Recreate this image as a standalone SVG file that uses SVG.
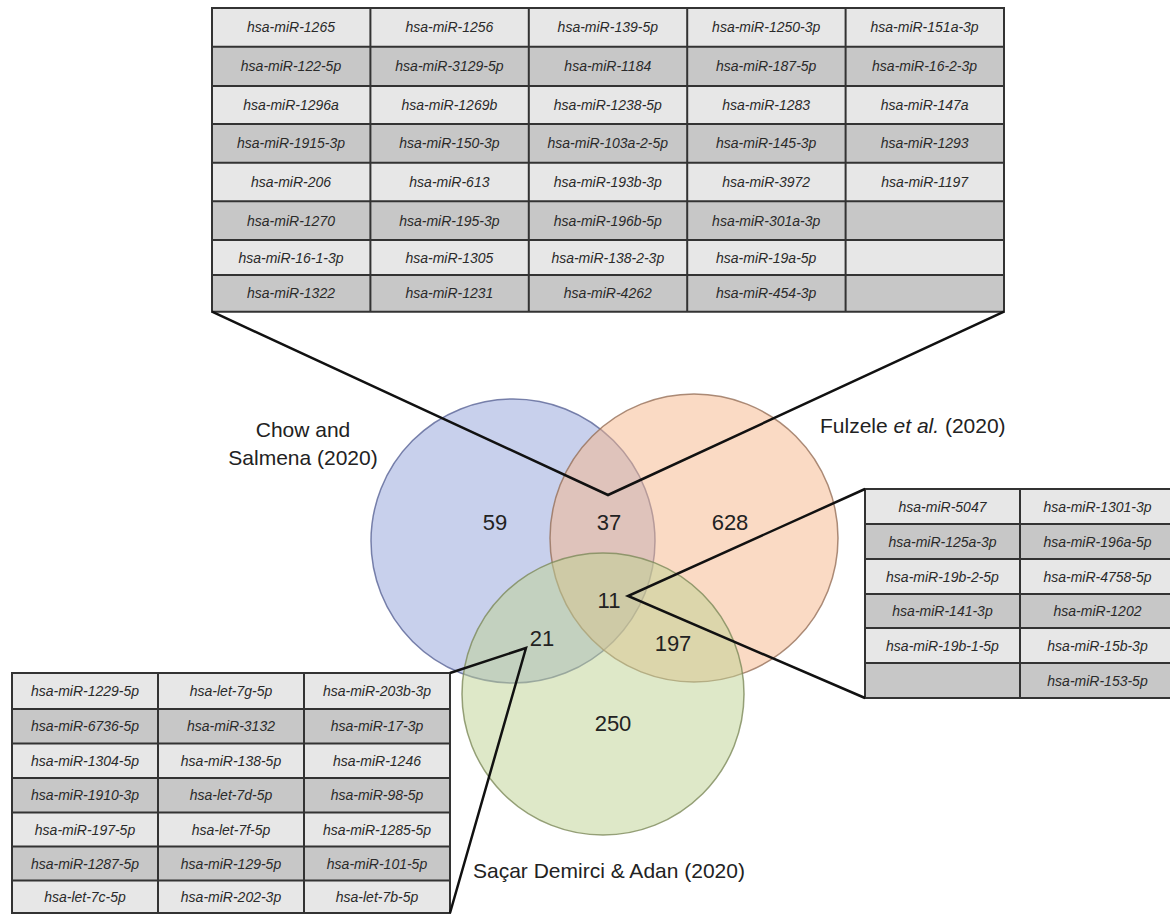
<svg xmlns="http://www.w3.org/2000/svg" width="1170" height="915" viewBox="0 0 1170 915">
<style>
.cell{font-family:"Liberation Sans",Arial,sans-serif;font-style:italic;font-size:14px;fill:#2a2a2a;text-anchor:middle}
.lt{fill:#e7e7e7}
.dk{fill:#c7c7c7}
.grid{stroke:#333;stroke-width:2;fill:none}
.num{font-family:"Liberation Sans",Arial,sans-serif;font-size:22px;fill:#222;text-anchor:middle}
.lab{font-family:"Liberation Sans",Arial,sans-serif;font-size:21px;fill:#222}
.conn{stroke:#111;stroke-width:2.5;fill:none;stroke-linejoin:miter}
</style>
<rect width="1170" height="915" fill="#fff"/>

<g id="venn">
  <g id="set-chow"><circle cx="513" cy="541" r="142" fill="#91a1d9" fill-opacity="0.5" stroke="#5a6496" stroke-opacity="0.8" stroke-width="1.5"/></g>
  <g id="set-fulzele"><circle cx="694" cy="538" r="144" fill="#f5b589" fill-opacity="0.5" stroke="#96705a" stroke-opacity="0.8" stroke-width="1.5"/></g>
  <g id="set-sacar"><circle cx="603" cy="694" r="141" fill="#bdd191" fill-opacity="0.5" stroke="#7d8a5a" stroke-opacity="0.8" stroke-width="1.5"/></g>
</g>

<g id="counts">
  <text class="num" x="495" y="530">59</text>
  <text class="num" x="609" y="530">37</text>
  <text class="num" x="730" y="530">628</text>
  <text class="num" x="609" y="608">11</text>
  <text class="num" x="542" y="646">21</text>
  <text class="num" x="673" y="651">197</text>
  <text class="num" x="613" y="731">250</text>
</g>

<g id="labels">
  <text class="lab" x="303" y="437" text-anchor="middle">Chow and</text>
  <text class="lab" x="303" y="465" text-anchor="middle">Salmena (2020)</text>
  <text class="lab" x="820" y="433">Fulzele <tspan font-style="italic">et al.</tspan> (2020)</text>
  <text class="lab" x="473" y="878">Saçar Demirci &amp; Adan (2020)</text>
</g>

<g id="table-top">
  <rect class="lt" x="212" y="8" width="792" height="38.7"/>
  <rect class="dk" x="212" y="46.7" width="792" height="39.3"/>
  <rect class="lt" x="212" y="86" width="792" height="38"/>
  <rect class="dk" x="212" y="124" width="792" height="38.7"/>
  <rect class="lt" x="212" y="162.7" width="792" height="38.6"/>
  <rect class="dk" x="212" y="201.3" width="792" height="38.7"/>
  <rect class="lt" x="212" y="240" width="792" height="35"/>
  <rect class="dk" x="212" y="275" width="792" height="36.7"/>
  <path class="grid" d="M212 8H1004V311.7H212Z M212 46.7H1004 M212 86H1004 M212 124H1004 M212 162.7H1004 M212 201.3H1004 M212 240H1004 M212 275H1004 M370.4 8V311.7 M528.8 8V311.7 M687.2 8V311.7 M845.6 8V311.7"/>
  <text class="cell" x="291" y="32.4">hsa-miR-1265</text>
  <text class="cell" x="449.4" y="32.4">hsa-miR-1256</text>
  <text class="cell" x="607.8" y="32.4">hsa-miR-139-5p</text>
  <text class="cell" x="766.2" y="32.4">hsa-miR-1250-3p</text>
  <text class="cell" x="924.6" y="32.4">hsa-miR-151a-3p</text>
  <text class="cell" x="291" y="71.4">hsa-miR-122-5p</text>
  <text class="cell" x="449.4" y="71.4">hsa-miR-3129-5p</text>
  <text class="cell" x="607.8" y="71.4">hsa-miR-1184</text>
  <text class="cell" x="766.2" y="71.4">hsa-miR-187-5p</text>
  <text class="cell" x="924.6" y="71.4">hsa-miR-16-2-3p</text>
  <text class="cell" x="291" y="110">hsa-miR-1296a</text>
  <text class="cell" x="449.4" y="110">hsa-miR-1269b</text>
  <text class="cell" x="607.8" y="110">hsa-miR-1238-5p</text>
  <text class="cell" x="766.2" y="110">hsa-miR-1283</text>
  <text class="cell" x="924.6" y="110">hsa-miR-147a</text>
  <text class="cell" x="291" y="148.4">hsa-miR-1915-3p</text>
  <text class="cell" x="449.4" y="148.4">hsa-miR-150-3p</text>
  <text class="cell" x="607.8" y="148.4">hsa-miR-103a-2-5p</text>
  <text class="cell" x="766.2" y="148.4">hsa-miR-145-3p</text>
  <text class="cell" x="924.6" y="148.4">hsa-miR-1293</text>
  <text class="cell" x="291" y="187">hsa-miR-206</text>
  <text class="cell" x="449.4" y="187">hsa-miR-613</text>
  <text class="cell" x="607.8" y="187">hsa-miR-193b-3p</text>
  <text class="cell" x="766.2" y="187">hsa-miR-3972</text>
  <text class="cell" x="924.6" y="187">hsa-miR-1197</text>
  <text class="cell" x="291" y="225.7">hsa-miR-1270</text>
  <text class="cell" x="449.4" y="225.7">hsa-miR-195-3p</text>
  <text class="cell" x="607.8" y="225.7">hsa-miR-196b-5p</text>
  <text class="cell" x="766.2" y="225.7">hsa-miR-301a-3p</text>
  <text class="cell" x="291" y="262.5">hsa-miR-16-1-3p</text>
  <text class="cell" x="449.4" y="262.5">hsa-miR-1305</text>
  <text class="cell" x="607.8" y="262.5">hsa-miR-138-2-3p</text>
  <text class="cell" x="766.2" y="262.5">hsa-miR-19a-5p</text>
  <text class="cell" x="291" y="298.4">hsa-miR-1322</text>
  <text class="cell" x="449.4" y="298.4">hsa-miR-1231</text>
  <text class="cell" x="607.8" y="298.4">hsa-miR-4262</text>
  <text class="cell" x="766.2" y="298.4">hsa-miR-454-3p</text>
</g>

<g id="table-right">
  <rect class="lt" x="865" y="489" width="310" height="35"/>
  <rect class="dk" x="865" y="524" width="310" height="35"/>
  <rect class="lt" x="865" y="559" width="310" height="35"/>
  <rect class="dk" x="865" y="594" width="310" height="34"/>
  <rect class="lt" x="865" y="628" width="310" height="35"/>
  <rect class="dk" x="865" y="663" width="310" height="35"/>
  <path class="grid" d="M1175 489H865V698H1175 M865 524H1175 M865 559H1175 M865 594H1175 M865 628H1175 M865 663H1175 M1020 489V698"/>
  <text class="cell" x="942.5" y="511.5">hsa-miR-5047</text>
  <text class="cell" x="1097.5" y="511.5">hsa-miR-1301-3p</text>
  <text class="cell" x="942.5" y="546.5">hsa-miR-125a-3p</text>
  <text class="cell" x="1097.5" y="546.5">hsa-miR-196a-5p</text>
  <text class="cell" x="942.5" y="581.5">hsa-miR-19b-2-5p</text>
  <text class="cell" x="1097.5" y="581.5">hsa-miR-4758-5p</text>
  <text class="cell" x="942.5" y="616">hsa-miR-141-3p</text>
  <text class="cell" x="1097.5" y="616">hsa-miR-1202</text>
  <text class="cell" x="942.5" y="650.5">hsa-miR-19b-1-5p</text>
  <text class="cell" x="1097.5" y="650.5">hsa-miR-15b-3p</text>
  <text class="cell" x="1097.5" y="685.5">hsa-miR-153-5p</text>
</g>

<g id="table-left">
  <rect class="lt" x="12" y="673" width="438" height="36"/>
  <rect class="dk" x="12" y="709" width="438" height="34.5"/>
  <rect class="lt" x="12" y="743.5" width="438" height="34.5"/>
  <rect class="dk" x="12" y="778" width="438" height="34.5"/>
  <rect class="lt" x="12" y="812.5" width="438" height="34"/>
  <rect class="dk" x="12" y="846.5" width="438" height="34"/>
  <rect class="lt" x="12" y="880.5" width="438" height="32.5"/>
  <path class="grid" d="M12 673H450V913H12Z M12 709H450 M12 743.5H450 M12 778H450 M12 812.5H450 M12 846.5H450 M12 880.5H450 M158 673V913 M304 673V913"/>
  <text class="cell" x="85" y="696">hsa-miR-1229-5p</text>
  <text class="cell" x="231" y="696">hsa-let-7g-5p</text>
  <text class="cell" x="377" y="696">hsa-miR-203b-3p</text>
  <text class="cell" x="85" y="731.3">hsa-miR-6736-5p</text>
  <text class="cell" x="231" y="731.3">hsa-miR-3132</text>
  <text class="cell" x="377" y="731.3">hsa-miR-17-3p</text>
  <text class="cell" x="85" y="765.8">hsa-miR-1304-5p</text>
  <text class="cell" x="231" y="765.8">hsa-miR-138-5p</text>
  <text class="cell" x="377" y="765.8">hsa-miR-1246</text>
  <text class="cell" x="85" y="800.3">hsa-miR-1910-3p</text>
  <text class="cell" x="231" y="800.3">hsa-let-7d-5p</text>
  <text class="cell" x="377" y="800.3">hsa-miR-98-5p</text>
  <text class="cell" x="85" y="834.5">hsa-miR-197-5p</text>
  <text class="cell" x="231" y="834.5">hsa-let-7f-5p</text>
  <text class="cell" x="377" y="834.5">hsa-miR-1285-5p</text>
  <text class="cell" x="85" y="868.5">hsa-miR-1287-5p</text>
  <text class="cell" x="231" y="868.5">hsa-miR-129-5p</text>
  <text class="cell" x="377" y="868.5">hsa-miR-101-5p</text>
  <text class="cell" x="85" y="901.8">hsa-let-7c-5p</text>
  <text class="cell" x="231" y="901.8">hsa-miR-202-3p</text>
  <text class="cell" x="377" y="901.8">hsa-let-7b-5p</text>
</g>

<g id="connectors">
  <polyline class="conn" points="212,311.7 608,495 1004,311.7"/>
  <polyline class="conn" points="865,489 628,596 865,698"/>
  <polyline class="conn" points="450,673 526,648 450,913"/>
</g>
</svg>
